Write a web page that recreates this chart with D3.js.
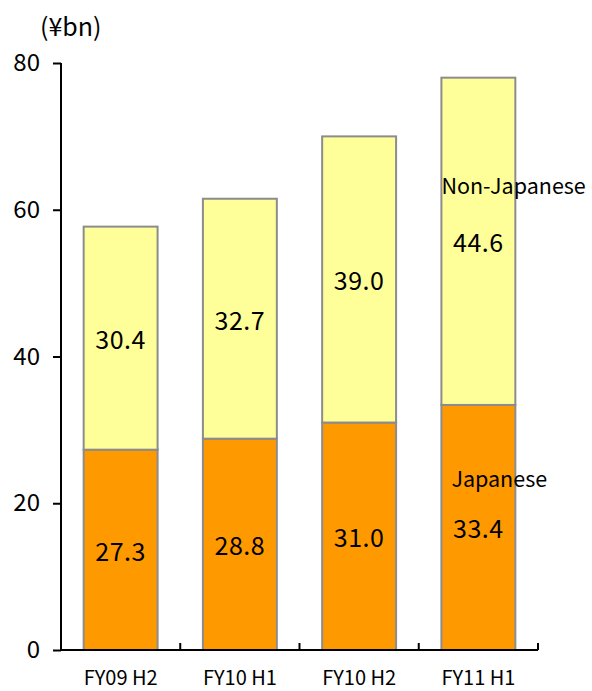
<!DOCTYPE html>
<html><head><meta charset="utf-8">
<script src="https://cdn.jsdelivr.net/npm/d3@7"></script>
<style>body{margin:0;background:#fff}svg{display:block}text{font-family:"Noto Sans CJK JP","DejaVu Sans",sans-serif;fill:#000}</style>
</head><body><svg id="c" width="592" height="691"></svg>
<script>
const categories = ["FY09 H2","FY10 H1","FY10 H2","FY11 H1"];
const japanese = [27.3, 28.8, 31.0, 33.4];
const nonJapanese = [30.4, 32.7, 39.0, 44.6];
const yTicks = [0,20,40,60,80];
const seriesNames = ["Japanese","Non-Japanese"];
const colors = ["#FF9900","#FFFF99"];

const svg = d3.select("#c");
const x = d3.scaleBand().domain(categories).range([61,538]).paddingInner(0.38).paddingOuter(0.19);
const y = d3.scaleLinear().domain([0,80]).range([650,63]);

const data = categories.map((c,i)=>({c, Japanese:japanese[i], "Non-Japanese":nonJapanese[i]}));
const stacked = d3.stack().keys(seriesNames)(data);

stacked.forEach((s,si)=>{
  svg.append("g").selectAll("rect").data(s).join("rect")
    .attr("x", d=>x(d.data.c)).attr("width", x.bandwidth())
    .attr("y", d=>y(d[1])).attr("height", d=>y(d[0])-y(d[1]))
    .attr("fill", colors[si]).attr("stroke","#8c8c8c").attr("stroke-width",2);
  svg.append("g").selectAll("text").data(s).join("text")
    .attr("x", d=>x(d.data.c)+x.bandwidth()/2).attr("y", d=>y((d[0]+d[1])/2))
    .attr("text-anchor","middle").attr("dominant-baseline","central")
    .attr("font-size",25).attr("letter-spacing",0.5).text(d=>(d[1]-d[0]).toFixed(1));
});

// y axis
const ya = svg.append("g").attr("transform","translate(61,0)")
  .call(d3.axisLeft(y).tickValues(yTicks).tickSize(8).tickPadding(13));
ya.select(".domain").attr("stroke","#000").attr("stroke-width",2).attr("d","M0,63V650");
ya.selectAll(".tick line").attr("stroke","#000").attr("stroke-width",2);
ya.selectAll(".tick text").attr("font-size",24).attr("font-family","'Noto Sans CJK JP','DejaVu Sans',sans-serif");

// x axis
const xa = svg.append("g").attr("transform","translate(0,650)")
  .call(d3.axisBottom(x).tickSize(0).tickPadding(0));
xa.select(".domain").attr("stroke","#000").attr("stroke-width",2).attr("d","M61,0H538");
xa.selectAll(".tick text").attr("font-size",20).attr("dy",null).attr("y",35)
  .attr("font-family","'Noto Sans CJK JP','DejaVu Sans',sans-serif");
// category boundary ticks
const bounds = categories.map(c=>x(c)+x.bandwidth()+x.step()*x.paddingInner()/2);
svg.append("g").selectAll("line").data(bounds).join("line")
  .attr("x1",d=>d).attr("x2",d=>d).attr("y1",650).attr("y2",643)
  .attr("stroke","#000").attr("stroke-width",2);

// unit label
svg.append("text").attr("x",40).attr("y",36).attr("font-size",25).text("(¥bn)");

// series labels
const last = categories[categories.length-1];
svg.append("text").attr("x",x(last)).attr("y",y(63.5)).attr("dominant-baseline","central")
  .attr("font-size",21.5).text(seriesNames[1]);
svg.append("text").attr("x",x(last)+10).attr("y",y(23.5)).attr("dominant-baseline","central")
  .attr("font-size",21.5).text(seriesNames[0]);
</script></body></html>
